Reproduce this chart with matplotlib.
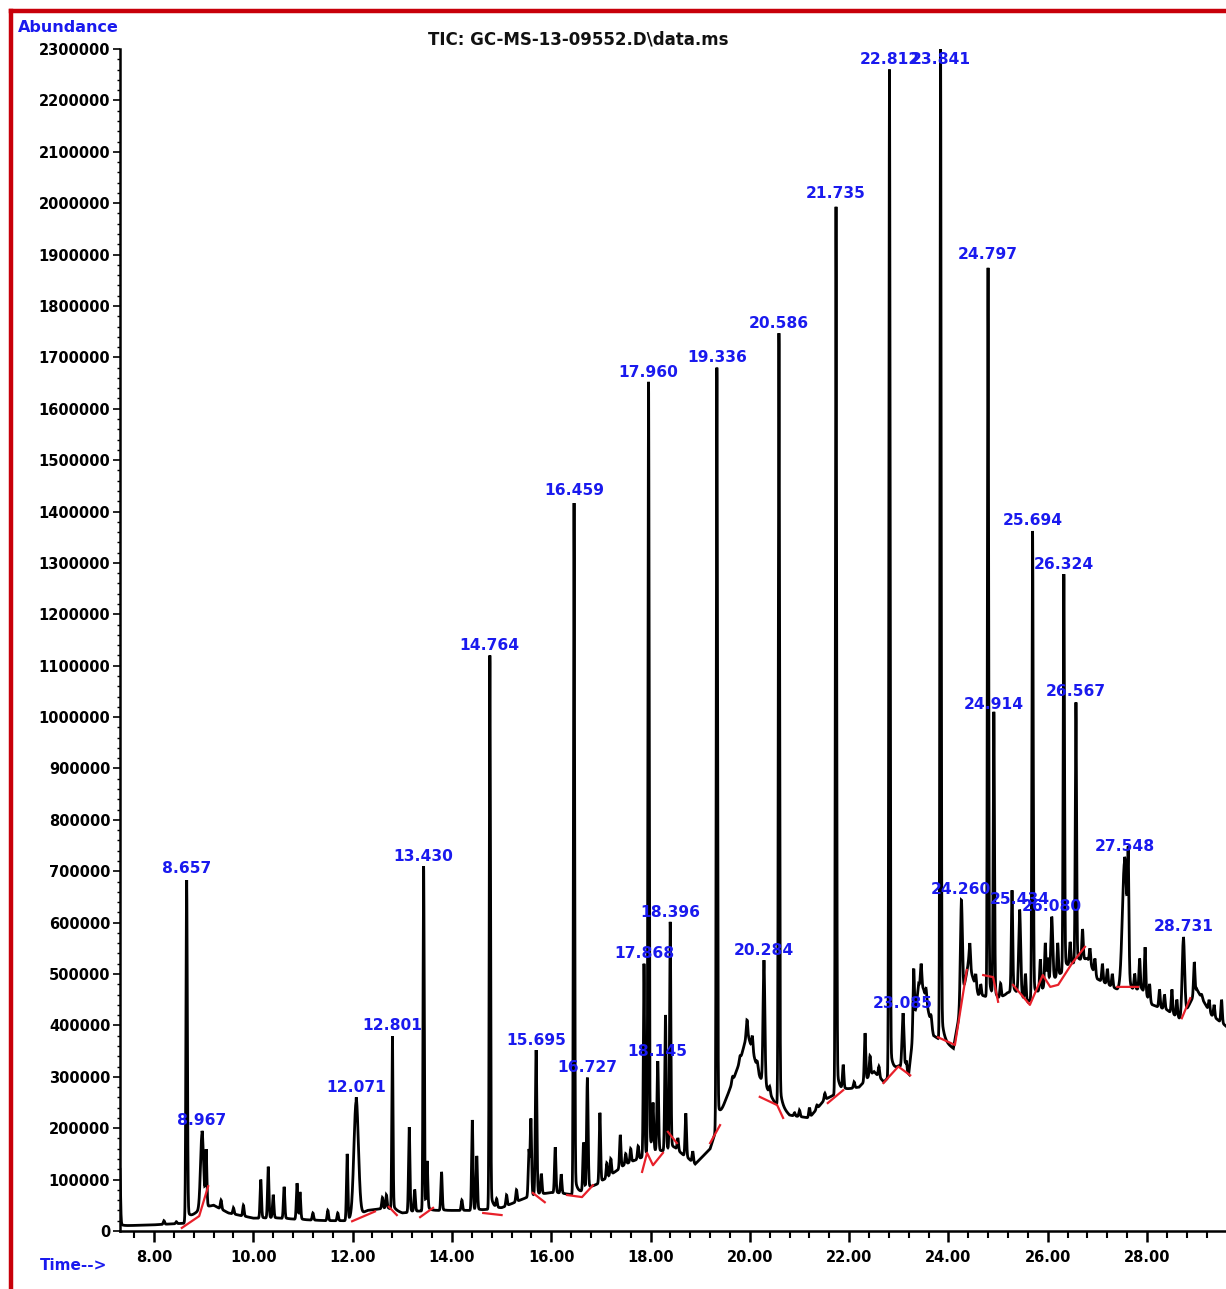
import numpy as np
import matplotlib
matplotlib.use("Agg")
import matplotlib.pyplot as plt
from matplotlib.lines import Line2D
from matplotlib.ticker import MultipleLocator, FixedLocator

# lower envelope of the TIC trace (min, abundance)
baseline_t = [7.3, 8.0, 8.6, 8.9, 9.2, 9.5, 10.0, 10.5, 11.0, 11.5, 11.9, 12.3, 12.7,
              13.0, 13.5, 14.0, 14.5, 15.0, 15.5, 16.0, 16.5, 17.0, 17.5, 18.0, 18.5,
              18.9, 19.2, 19.5, 19.8, 19.95, 20.2, 20.5, 20.8, 21.2, 21.5, 21.9, 22.2,
              22.5, 22.7, 23.0, 23.2, 23.4, 23.5, 23.7, 24.1, 24.4, 24.6, 25.0, 25.3,
              25.6, 26.0, 26.5, 26.8, 27.0, 27.4, 27.9, 28.1, 28.4, 28.7, 29.0, 29.3, 29.7]
baseline_v = [10000, 12000, 15000, 40000, 50000, 35000, 25000, 25000, 22000, 20000,
              20000, 40000, 45000, 35000, 40000, 40000, 40000, 45000, 65000, 75000,
              70000, 95000, 130000, 150000, 160000, 130000, 160000, 250000, 330000,
              385000, 300000, 250000, 225000, 220000, 255000, 275000, 280000, 310000,
              290000, 320000, 305000, 480000, 470000, 380000, 355000, 520000, 460000,
              450000, 470000, 445000, 480000, 520000, 530000, 490000, 470000, 470000,
              440000, 430000, 410000, 470000, 420000, 390000]

# labelled peaks: retention time, apex abundance, width
label_rt = [8.657, 8.967, 12.071, 12.801, 13.430, 14.764, 15.695, 16.459, 16.727,
            17.868, 17.960, 18.145, 18.396, 19.336, 20.284, 20.586, 21.735, 22.812,
            23.085, 23.841, 24.260, 24.797, 24.914, 25.434, 25.694, 26.080, 26.324,
            26.567, 27.548, 28.731]
label_apex = [685000, 195000, 260000, 380000, 710000, 1120000, 352000, 1422000, 298000,
              520000, 1650000, 329000, 600000, 1680000, 527000, 1747000, 2000000,
              2260000, 424000, 2320000, 644000, 1880000, 1005000, 625000, 1362000,
              611000, 1278000, 1030000, 728000, 572000]
label_w = [0.014, 0.03, 0.045, 0.012, 0.012, 0.012, 0.015, 0.012, 0.015,
           0.013, 0.012, 0.015, 0.013, 0.012, 0.018, 0.012, 0.012, 0.012,
           0.02, 0.012, 0.02, 0.012, 0.013, 0.02, 0.013, 0.02, 0.013,
           0.013, 0.045, 0.025]

# unlabelled minor peaks
minor_rt = [7.31, 8.2, 8.45, 9.05, 9.35, 9.6, 9.8, 10.15, 10.3, 10.4, 10.62, 10.88,
            10.94, 11.2, 11.5, 11.7, 11.89, 12.6, 12.68, 13.14, 13.25, 13.5, 13.79,
            14.2, 14.41, 14.5, 14.9, 15.1, 15.3, 15.55, 15.59, 15.8, 16.08, 16.2,
            16.65, 16.98, 17.12, 17.2, 17.39, 17.5, 17.6, 17.75, 18.05, 18.3, 18.55,
            18.71, 18.85, 19.1, 19.65, 19.8, 19.94, 20.05, 20.15, 20.4, 20.9, 21.0,
            21.2, 21.35, 21.51, 21.88, 22.1, 22.32, 22.42, 22.6, 23.15, 23.3, 23.45,
            23.55, 23.65, 24.43, 24.55, 24.65, 25.05, 25.18, 25.28, 25.55, 25.85,
            25.95, 26.0, 26.2, 26.45, 26.7, 26.85, 26.95, 27.1, 27.2, 27.3, 27.62,
            27.75, 27.85, 27.96, 28.05, 28.25, 28.35, 28.5, 28.6, 28.95, 29.1, 29.25,
            29.35, 29.5]
minor_apex = [125000, 20000, 18000, 155000, 60000, 45000, 50000, 100000, 125000, 70000,
              86000, 93000, 75000, 35000, 40000, 35000, 150000, 65000, 70000, 202000,
              80000, 130000, 115000, 60000, 216000, 145000, 60000, 70000, 80000, 157000,
              216000, 110000, 163000, 110000, 171000, 230000, 132000, 140000, 187000,
              150000, 160000, 165000, 240000, 420000, 180000, 229000, 155000, 140000,
              300000, 340000, 410000, 380000, 330000, 280000, 230000, 235000, 240000,
              245000, 268000, 320000, 290000, 385000, 340000, 320000, 330000, 510000,
              520000, 470000, 420000, 560000, 500000, 480000, 480000, 463000, 663000,
              500000, 527000, 560000, 530000, 560000, 560000, 586000, 550000, 530000,
              520000, 510000, 500000, 677000, 500000, 530000, 552000, 480000, 470000,
              460000, 470000, 450000, 523000, 460000, 450000, 440000, 450000]

# integration baselines (red), NaN separates segments
red_t = [8.56, 8.91, 9.09, np.nan, 11.99, 12.45, np.nan, 12.73, 12.89, np.nan,
         13.36, 13.62, np.nan, 14.63, 15.0, np.nan, 15.63, 15.87, np.nan,
         16.32, 16.62, 16.84, np.nan, 17.83, 17.93, 18.05, 18.25, np.nan,
         18.35, 18.53, np.nan, 19.2, 19.4, np.nan, 20.2, 20.55, 20.67, np.nan,
         21.57, 21.88, np.nan, 22.69, 22.99, 23.23, np.nan, 23.79, 24.13, 24.37, np.nan,
         24.7, 24.9, 25.0, np.nan, 25.3, 25.64, 25.9, 26.05, 26.21, 26.49, 26.75, np.nan,
         27.4, 27.82, np.nan, 28.7, 28.87]
red_v = [6000, 29000, 87000, np.nan, 19000, 38000, np.nan, 47000, 31000, np.nan,
         27000, 45000, np.nan, 35000, 31000, np.nan, 74000, 56000, np.nan,
         70000, 66000, 89000, np.nan, 115000, 152000, 128000, 152000, np.nan,
         193000, 171000, np.nan, 171000, 206000, np.nan, 261000, 245000, 220000, np.nan,
         249000, 274000, np.nan, 288000, 320000, 303000, np.nan, 377000, 362000, 508000, np.nan,
         498000, 494000, 446000, np.nan, 479000, 440000, 498000, 475000, 479000, 521000, 553000, np.nan,
         475000, 475000, np.nan, 414000, 453000]

# build the trace from baseline + peaks
t = np.arange(7.0, 29.8, 0.002)
trace = np.interp(t, baseline_t, baseline_v).astype(float)
peaks = list(zip(label_rt, label_apex, label_w)) + [(r, a, 0.014) for r, a in zip(minor_rt, minor_apex)]
tail_frac = 0.04
for rt, apex, w in peaks:
    h = apex - np.interp(rt, baseline_t, baseline_v)
    if h <= 0:
        continue
    h = h / (1 + tail_frac)
    trace += h * np.exp(-0.5 * ((t - rt) / w) ** 2)
    tail = np.where(t >= rt - 0.001, np.exp(-np.clip(t - rt, 0, None) / 0.05), 0)
    trace += tail_frac * h * tail

fig = plt.figure(figsize=(12.26, 12.89), dpi=100)
ax = fig.add_axes([120 / 1226, 1 - 1231 / 1289, 1 - 120 / 1226, (1231 - 49) / 1289])

ax.plot(t, trace, color="black", lw=2.0, solid_joinstyle="miter")
ax.plot(red_t, red_v, color="#e8202a", lw=1.6)

blue = "#1a1aee"
for rt, apex in zip(label_rt, label_apex):
    ly = min(apex, 2260000) + 5000
    ax.text(rt, ly, f"{rt:.3f}", color=blue, fontsize=11.2, fontweight="bold",
            ha="center", va="bottom", clip_on=False)

ax.set_xlim(7.315, 29.59)
ax.set_ylim(0, 2300000)
ax.xaxis.set_major_locator(FixedLocator(np.arange(8, 29, 2)))
ax.xaxis.set_minor_locator(MultipleLocator(0.4))
ax.xaxis.set_major_formatter(lambda v, p: f"{v:.2f}")
ax.yaxis.set_major_locator(MultipleLocator(100000))
ax.yaxis.set_minor_locator(MultipleLocator(20000))
ax.yaxis.set_major_formatter(lambda v, p: f"{int(v)}")

for s in ["top", "right"]:
    ax.spines[s].set_visible(False)
for s in ["left", "bottom"]:
    ax.spines[s].set_linewidth(1.8)

ax.tick_params(axis="x", which="major", direction="out", length=8, width=1.8, pad=6,
               labelsize=10.5)
ax.tick_params(axis="x", which="minor", direction="out", length=5, width=1.5)
ax.tick_params(axis="y", which="major", direction="out", length=5, width=1.2, pad=2,
               labelsize=10.5)
ax.tick_params(axis="y", which="minor", direction="out", length=2, width=1.0)
for lab in ax.get_xticklabels() + ax.get_yticklabels():
    lab.set_fontweight("bold")

fig.text(18 / 1226, 1 - 28 / 1289, "Abundance", color=blue, fontsize=11.5,
         fontweight="bold", ha="left", va="center")
fig.text(40 / 1226, 1 - 1265 / 1289, "Time-->", color=blue, fontsize=11,
         fontweight="bold", ha="left", va="center")
fig.text(428 / 1226, 1 - 40 / 1289, "TIC: GC-MS-13-09552.D\\data.ms", color="#111111",
         fontsize=12, fontweight="bold", ha="left", va="center")

# red frame around the report (left and top edges visible)
fig.add_artist(Line2D([11 / 1226, 11 / 1226], [0, 1 - 11 / 1289], color="#c8000a", lw=3.2,
                      transform=fig.transFigure))
fig.add_artist(Line2D([11 / 1226, 1], [1 - 11 / 1289, 1 - 11 / 1289], color="#c8000a", lw=3.2,
                      transform=fig.transFigure))

fig.savefig("out.png", dpi=100)
